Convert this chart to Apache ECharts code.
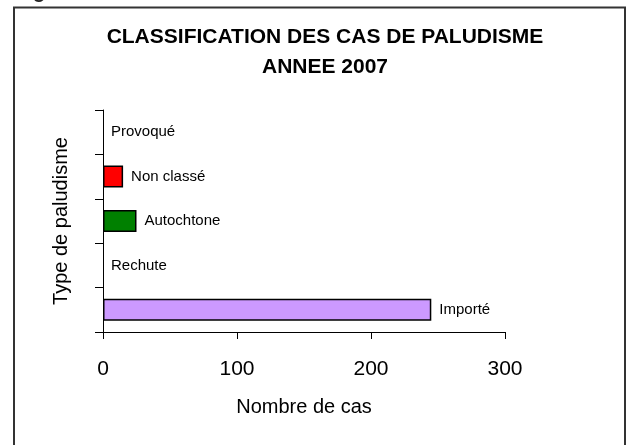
<!DOCTYPE html>
<html>
<head>
<meta charset="utf-8">
<style>
  html, body { margin: 0; padding: 0; background: #fff; }
  #chart { width: 626px; height: 445px; }
</style>
<script src="https://cdn.jsdelivr.net/npm/echarts@6/dist/echarts.min.js"></script>
</head>
<body>
<div id="chart"></div>
<script>
// Malaria case types, listed bottom to top on the vertical axis
const categories = ['Importé', 'Rechute', 'Autochtone', 'Non classé', 'Provoqué'];
const cases = [245, 0, 25, 15, 0];
const barColors = ['#CC99FF', '#CC99FF', '#008000', '#FF0000', '#CC99FF'];
const xTicks = [0, 100, 200, 300];

const FONT = '"Liberation Sans", Arial, sans-serif';

const chart = echarts.init(document.getElementById('chart'), null, { renderer: 'canvas' });

chart.setOption({
  animation: false,
  backgroundColor: '#ffffff',
  title: {
    text: 'CLASSIFICATION DES CAS DE PALUDISME\nANNEE 2007',
    left: 320,
    textAlign: 'center',
    top: 17,
    textStyle: {
      fontFamily: FONT,
      fontSize: 21,
      fontWeight: 'bold',
      color: '#000',
      lineHeight: 30
    }
  },
  graphic: [
    {
      type: 'rect',
      shape: { x: 14, y: 7.5, width: 611, height: 460 },
      style: { fill: 'none', stroke: '#333', lineWidth: 2 },
      silent: true
    },
    {
      type: 'text',
      left: 33,
      top: -18,
      style: { text: 'g', font: 'bold 20px ' + FONT, fill: '#222' },
      silent: true
    }
  ],
  grid: {
    left: 103,
    right: 121,
    top: 110,
    bottom: 113,
    containLabel: false
  },
  xAxis: {
    type: 'value',
    min: xTicks[0],
    max: xTicks[xTicks.length - 1],
    interval: 100,
    name: 'Nombre de cas',
    nameLocation: 'middle',
    nameGap: 65,
    nameTextStyle: { fontFamily: FONT, fontSize: 20, color: '#000' },
    axisLine: { show: true, lineStyle: { color: '#000', width: 1 } },
    axisTick: { show: true, length: 7, inside: false, lineStyle: { color: '#000' } },
    axisLabel: { margin: 27, fontFamily: FONT, fontSize: 21, color: '#000' },
    splitLine: { show: false }
  },
  yAxis: {
    type: 'category',
    data: categories,
    name: 'Type de paludisme',
    nameLocation: 'middle',
    nameRotate: 90,
    nameGap: 32,
    nameTextStyle: { fontFamily: FONT, fontSize: 20, color: '#000' },
    axisLine: { show: true, lineStyle: { color: '#000', width: 1 } },
    axisTick: { show: true, length: 8, alignWithLabel: false, lineStyle: { color: '#000' } },
    axisLabel: { show: false },
    splitLine: { show: false }
  },
  series: [
    {
      type: 'bar',
      barWidth: 22,
      data: cases.map((v, i) => ({
        value: v,
        itemStyle: {
          color: barColors[i],
          borderColor: '#000',
          borderWidth: v === 0 ? 0 : 1.5
        }
      })),
      label: {
        show: true,
        position: 'right',
        distance: 8,
        formatter: p => p.name,
        fontFamily: FONT,
        fontSize: 15,
        color: '#000'
      }
    }
  ]
});
</script>
</body>
</html>
